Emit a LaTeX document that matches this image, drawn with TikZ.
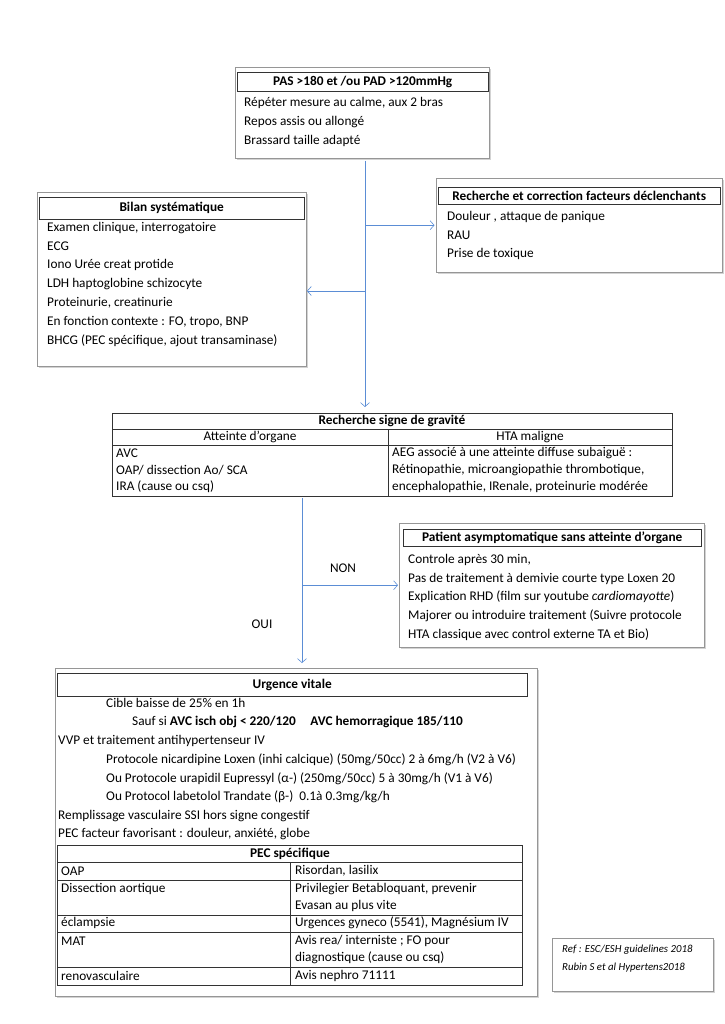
\documentclass[tikz,border=0pt]{standalone}
\usepackage{fontspec}
\setmainfont{Carlito}
\usepackage{tikz}
\usetikzlibrary{arrows.meta}
\usetikzlibrary{shadows}
\definecolor{mblue}{RGB}{91,141,213}
\definecolor{mgray}{RGB}{150,150,150}
\newcommand{\fs}{\fontsize{13.3}{16}\selectfont}
\tikzset{frame/.style = {draw=mgray, fill=white, anchor=north west, inner sep=0,
                         drop shadow={shadow xshift=1.5pt, shadow yshift=-1.5pt, opacity=0.35}},
         head/.style = {draw=black!80, anchor=north west, inner sep=0, font=\fs\bfseries},
         tab/.style = {draw=black!80, anchor=north west, inner sep=0},
         txt/.style = {anchor=west, inner sep=0, font=\fs},
         cell/.style = {inner sep=0, font=\fs},
         flow/.style = {mblue, semithick, -{Straight Barb[length=4pt, width=9pt]}}}

\begin{document}
\begin{tikzpicture}[x=1pt, y=-1pt]
    \useasboundingbox (0,0) rectangle (724,1024);

    \node [frame, minimum width=254, minimum height=91] (pas) at (235,67) {};
    \node [head, minimum width=251, minimum height=19] (pashead) at (237,72) {PAS >180 et /ou PAD >120mmHg};
    \foreach \t [count=\i] in {{Répéter mesure au calme, aux 2 bras}, Repos assis ou allongé, Brassard taille adapté}
        \node [txt] (pas\i) at (244, 84+19*\i) {\t};

    \node [frame, minimum width=286, minimum height=94] (fact) at (436,178) {};
    \node [head, minimum width=282, minimum height=17] (facthead) at (438,187) {Recherche et correction facteurs déclenchants};
    \foreach \t [count=\i] in {{Douleur , attaque de panique}, RAU, Prise de toxique}
        \node [txt] (fact\i) at (447, 198+18.5*\i) {\t};

    \node [frame, minimum width=269, minimum height=174] (bilan) at (37,192) {};
    \node [head, minimum width=265, minimum height=22] (bilanhead) at (39,197) {Bilan systématique};
    \foreach \t [count=\i] in {{Examen clinique, interrogatoire}, ECG, Iono Urée creat protide,
                               LDH haptoglobine schizocyte, {Proteinurie, creatinurie},
                               {En fonction contexte : FO, tropo, BNP}, {BHCG (PEC spécifique, ajout transaminase)}}
        \node [txt] (bilan\i) at (47, 209+18.8*\i) {\t};

    \node [tab, minimum width=560, minimum height=83] (grav) at (112,413) {};
    \draw [black!80] (112,429) -- (672,429) (112,445) -- (672,445) (388,429) -- (388,496);
    \node [cell, font=\fs\bfseries] (gravtitle) at (392,421) {Recherche signe de gravité};
    \node [cell] (org) at (250,437) {Atteinte d’organe};
    \node [cell] (htam) at (530,437) {HTA maligne};
    \node [txt] (org1) at (116,453) {AVC};
    \node [txt] (org2) at (116,470) {OAP/ dissection Ao/ SCA};
    \node [txt] (org3) at (116,487) {IRA (cause ou csq)};
    \node [txt] (htam1) at (392,453) {AEG associé à une atteinte diffuse subaiguë :};
    \node [txt] (htam2) at (392,470) {Rétinopathie, microangiopathie thrombotique,};
    \node [txt] (htam3) at (392,487) {encephalopathie, IRenale, proteinurie modérée};

    \node [frame, minimum width=305, minimum height=124] (patient) at (399,523) {};
    \node [head, minimum width=298, minimum height=17] (patienthead) at (403,529) {Patient asymptomatique sans atteinte d’organe};
    \foreach \t [count=\i] in {{Controle après 30 min,}, Pas de traitement à demivie courte type Loxen 20,
                               Explication RHD (film sur youtube \textit{cardiomayotte}),
                               Majorer ou introduire traitement (Suivre protocole,
                               HTA classique avec control externe TA et Bio)}
        \node [txt] (patient\i) at (408, 541.4+18.6*\i) {\t};

    \node [frame, minimum width=482, minimum height=328] (urg) at (55,668) {};
    \node [head, minimum width=470, minimum height=23] (urghead) at (57,673) {Urgence vitale};
    \node [txt] (urg1) at (106,703) {Cible baisse de 25\% en 1h};
    \node [txt] (urg2) at (132,722) {Sauf si \textbf{AVC isch obj < 220/120}\hspace{1.1em}\textbf{AVC hemorragique 185/110}};
    \node [txt] (urg3) at (58,741) {VVP et traitement antihypertenseur IV};
    \node [txt] (urg4) at (106,760) {Protocole nicardipine Loxen (inhi calcique) (50mg/50cc) 2 à 6mg/h (V2 à V6)};
    \node [txt] (urg5) at (106,779) {Ou Protocole urapidil Eupressyl (α-) (250mg/50cc) 5 à 30mg/h (V1 à V6)};
    \node [txt] (urg6) at (106,797) {Ou Protocol labetolol Trandate (β-)\ \ 0.1à 0.3mg/kg/h};
    \node [txt] (urg7) at (58,816) {Remplissage vasculaire SSI hors signe congestif};
    \node [txt] (urg8) at (58,834) {PEC facteur favorisant : douleur, anxiété, globe};

    \node [tab, minimum width=465, minimum height=140] (pec) at (57,845) {};
    \draw [black!80] (57,862) -- (522,862) (57,880) -- (522,880) (57,915) -- (522,915)
                     (57,932) -- (522,932) (57,967) -- (522,967) (290,862) -- (290,985);
    \node [cell, font=\fs\bfseries] (pectitle) at (290,854) {PEC spécifique};
    \node [txt] (pecl1) at (61,871) {OAP};
    \node [txt] (pecl2) at (61,889) {Dissection aortique};
    \node [txt] (pecl3) at (61,923) {éclampsie};
    \node [txt] (pecl4) at (61,941) {MAT};
    \node [txt] (pecl5) at (61,976) {renovasculaire};
    \node [txt] (pecr1) at (295,871) {Risordan, lasilix};
    \node [txt] (pecr2) at (295,889) {Privilegier Betabloquant, prevenir};
    \node [txt] (pecr3) at (295,906) {Evasan au plus vite};
    \node [txt] (pecr4) at (295,923) {Urgences gyneco (5541), Magnésium IV};
    \node [txt] (pecr5) at (295,941) {Avis rea/ interniste ; FO pour};
    \node [txt] (pecr6) at (295,958) {diagnostique (cause ou csq)};
    \node [txt] (pecr7) at (295,976) {Avis nephro 71111};

    \node [frame, minimum width=161, minimum height=53] (ref) at (552,938) {};
    \node [txt, font=\fontsize{10.8}{13}\selectfont\itshape] (ref1) at (562,950) {Ref : ESC/ESH guidelines 2018};
    \node [txt, font=\fontsize{10.8}{13}\selectfont\itshape] (ref2) at (562,968) {Rubin S et al Hypertens2018};

    \coordinate (t1) at (365,161);
    \coordinate (t2) at (365,291);
    \coordinate (t3) at (302,498);
    \draw [flow, shorten >=6pt] (t1) -- (t1 |- grav.north);
    \draw [flow, shorten >=1.5pt] (t1 |- fact.west) -- (fact.west);
    \draw [flow, shorten >=0.5pt] (t2) -- (t2 -| bilan.east);
    \draw [flow, shorten >=5pt] (t3) -- (t3 |- urg.north);
    \draw [flow, shorten >=1pt] (t3 |- patient.west) -- (patient.west);
    \node [cell] (non) at (343,568) {NON};
    \node [cell] (oui) at (262,624) {OUI};
\end{tikzpicture}
\end{document}
